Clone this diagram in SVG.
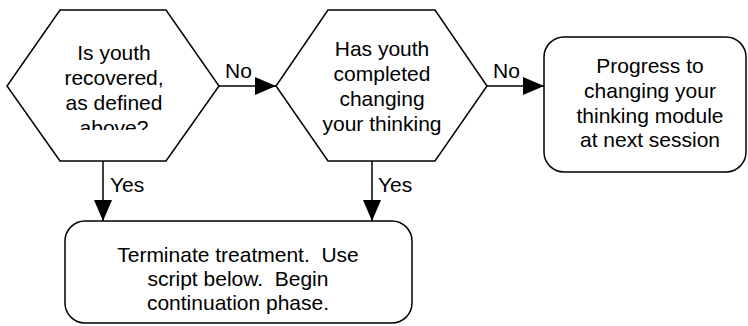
<svg xmlns="http://www.w3.org/2000/svg" width="748" height="326" viewBox="0 0 748 326">
<style>
.shape{fill:#fff;stroke:#000;stroke-width:1.5}
.conn{stroke:#000;stroke-width:1.5;fill:none}
text{font-family:"Liberation Sans",Arial,sans-serif;font-size:21px;fill:#000;white-space:pre}
.c{text-anchor:middle}
</style>
<defs>
<marker id="ah" viewBox="0 0 21 18" refX="21" refY="9" markerWidth="21" markerHeight="18" markerUnits="userSpaceOnUse" orient="auto">
<path d="M0,0 L21,9 L0,18 Z" fill="#000"/>
</marker>
<clipPath id="clip1"><rect x="20" y="20" width="190" height="110"/></clipPath>
</defs>
<g id="q1">
<polygon class="shape" points="60,10 166,10 219,86 166,161 60,161 7,86"/>
<g clip-path="url(#clip1)">
<text class="c" x="114" y="60">Is youth</text>
<text class="c" x="114" y="85">recovered,</text>
<text class="c" x="114" y="110">as defined</text>
<text class="c" x="114" y="135">above?</text>
</g>
</g>
<g id="q2">
<polygon class="shape" points="328,10 435,10 487,86 435,161 328,161 276,86"/>
<text class="c" x="382" y="56">Has youth</text>
<text class="c" x="382" y="81">completed</text>
<text class="c" x="382" y="106">changing</text>
<text class="c" x="382" y="131">your thinking</text>
</g>
<g id="progress">
<rect class="shape" x="544" y="37" width="202" height="135" rx="20" ry="20"/>
<text class="c" x="650" y="73">Progress to</text>
<text class="c" x="650" y="98">changing your</text>
<text class="c" x="650" y="123">thinking module</text>
<text class="c" x="650" y="147">at next session</text>
</g>
<g id="terminate">
<rect class="shape" x="65" y="221" width="347" height="102" rx="20" ry="20"/>
<text class="c" x="238" y="262" xml:space="preserve">Terminate treatment.  Use</text>
<text class="c" x="238" y="286" xml:space="preserve">script below.  Begin</text>
<text class="c" x="238" y="310">continuation phase.</text>
</g>
<g id="connectors">
<line class="conn" x1="219" y1="86" x2="276" y2="86" marker-end="url(#ah)"/>
<line class="conn" x1="487" y1="86" x2="544" y2="86" marker-end="url(#ah)"/>
<line class="conn" x1="103" y1="161" x2="103" y2="221" marker-end="url(#ah)"/>
<line class="conn" x1="372" y1="161" x2="372" y2="221" marker-end="url(#ah)"/>
<text x="225" y="78">No</text>
<text x="493" y="78">No</text>
<text x="110" y="192">Yes</text>
<text x="378" y="192">Yes</text>
</g>
</svg>
